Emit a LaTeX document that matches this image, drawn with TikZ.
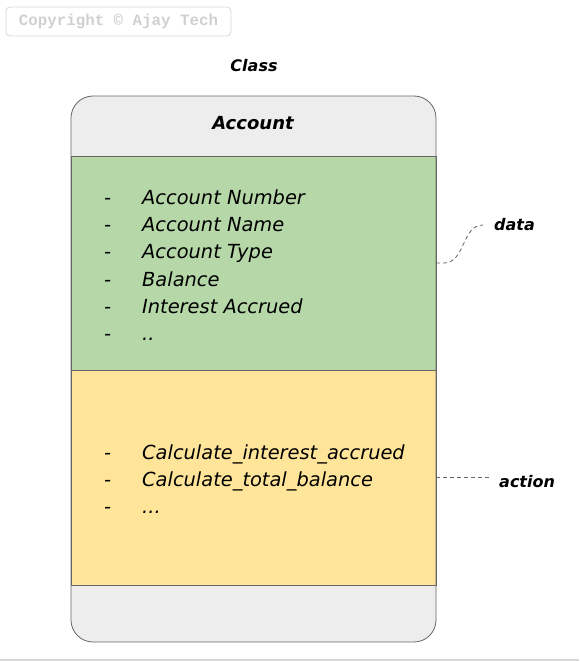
\documentclass[tikz,border=0pt]{standalone}
\usepackage{fontspec}
\setmainfont{DejaVu Sans}
\newfontfamily\monof{Liberation Mono}
\definecolor{hdrgray}{HTML}{EDEDED}
\definecolor{datagreen}{HTML}{B6D7A8}
\definecolor{actyellow}{HTML}{FFE599}
\definecolor{strokegray}{HTML}{666666}
\definecolor{lightline}{HTML}{D6D6D6}
\definecolor{crgray}{HTML}{D0D0D0}
\tikzset{
  section/.style={draw=strokegray, line width=0.8pt, minimum width=365pt, inner sep=0pt, outer sep=0pt},
  listtext/.style={anchor=north west, align=left, inner sep=0pt, font=\fontsize{19.4}{27.2}\selectfont\itshape},
  headtext/.style={font=\fontsize{16}{18}\selectfont\bfseries\itshape, inner sep=0pt},
  note/.style={draw=strokegray, line width=0.8pt, dash pattern=on 4pt off 3pt},
}
\newcommand{\li}[1]{\makebox[38pt][l]{-}#1}
\begin{document}
\begin{tikzpicture}[x=1pt, y=-1pt]
\useasboundingbox (0,0) rectangle (579,661);
% copyright
\node[draw=lightline, rounded corners=4pt, line width=0.8pt, minimum width=225pt, minimum height=29pt, inner sep=0pt,
  text=crgray, font=\monof\bfseries\fontsize{15.8}{15.8}\selectfont] (copy) at (118.5,21.5) {Copyright © Ajay Tech};
% bottom line
\draw[lightline, line width=2pt] (0,660) -- (579,660);
% outer box
\fill[hdrgray, rounded corners=22pt] (71,96) rectangle (436,642);
\node[section, fill=datagreen, minimum height=214pt, anchor=north west] (dataSec) at (71,156) {};
\node[section, fill=actyellow, minimum height=215pt, anchor=north west] (actSec) at (71,370) {};
\draw[strokegray, line width=0.8pt, rounded corners=22pt] (71,96) rectangle (436,642);
\node[headtext, font=\fontsize{16}{18}\selectfont\bfseries\itshape] (cls) at (254,66) {Class};
\node[headtext, font=\fontsize{18}{20}\selectfont\bfseries\itshape] (acc) at (253,123) {Account};
\node[listtext] (dlist) at (104,189.5) {\li{Account Number}\\ \li{Account Name}\\ \li{Account Type}\\ \li{Balance}\\ \li{Interest Accrued}\\ \li{..}};
\node[listtext] (alist) at (104,444.5) {\li{Calculate\_interest\_accrued}\\ \li{Calculate\_total\_balance}\\ \li{...}};
\node[headtext, anchor=west] (data) at (494,225) {data};
\node[headtext, anchor=west] (action) at (499,482) {action};
\draw[note] (dataSec.east) -- ++(8,0) to[out=0, in=180] (data.west -| 483,0);
\draw[note] (actSec.east) -- (490,477.5);
\end{tikzpicture}
\end{document}
